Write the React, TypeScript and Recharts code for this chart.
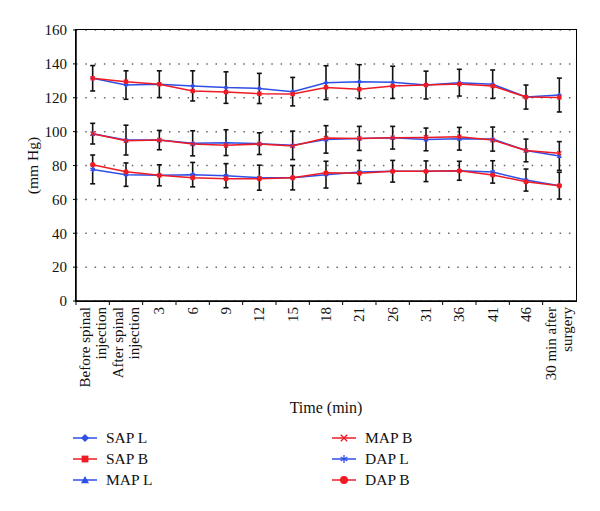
import { CartesianGrid, ErrorBar, Line, LineChart, XAxis, YAxis } from 'recharts'

const categories = [
  'Before spinal\ninjection',
  'After spinal\ninjection',
  '3', '6', '9', '12', '15', '18', '21', '26', '31', '36', '41', '46',
  '30 min after\nsurgery',
]

const sapL = [131.5, 127.5, 128, 127, 126, 125.5, 123.6, 128.9, 129.5, 129.1, 127.5, 128.9, 128, 120.4, 121.6]
const sapB = [131.5, 129.5, 128, 124, 123.4, 122.4, 122.2, 126.1, 125, 126.9, 127.5, 128.1, 126.9, 120.4, 120.2]
const mapL = [98.8, 95, 95, 93.1, 93.5, 92.9, 91.9, 95.4, 96, 96.4, 95.4, 95.8, 95.6, 88.9, 85.6]
const mapB = [98.8, 94.6, 95, 92.7, 91.9, 92.7, 91.5, 96.2, 96, 96.4, 96.6, 97, 95, 88.9, 87.2]
const dapL = [77.7, 74.6, 74.2, 74.6, 74, 72.8, 72.8, 74.6, 76.2, 76.6, 76.6, 76.9, 76.2, 71.4, 68.1]
const dapB = [80.5, 76.3, 74.2, 72.8, 72.2, 72.2, 72.8, 75.7, 75.4, 76.6, 76.6, 76.9, 74.4, 70.4, 68.1]

// half-width of the black error bars (SD), one bar per time point and group
const sapErr = [7.5, 8.4, 7.9, 8.9, 9.3, 8.9, 8.4, 10, 10, 9.5, 8.2, 7.9, 8.4, 7.1, 10]
const mapErr = [6.1, 8.8, 5.7, 7.4, 7.6, 6.4, 8.4, 8.1, 7.1, 6.7, 6.7, 6.7, 7.1, 6.7, 8.5]
const dapErr = [8.5, 6.9, 6.2, 7.2, 7.1, 7.4, 7.2, 7.9, 6.8, 6.4, 6.1, 5.6, 6.6, 6.5, 7.9]

const yTicks = [0, 20, 40, 60, 80, 100, 120, 140, 160]

const BLUE = '#2f4fe6'
const RED = '#ee1b24'
const FONT = '"Liberation Serif", "DejaVu Serif", serif'

type Shape = 'diamond' | 'square' | 'triangle' | 'x' | 'star' | 'circle'

const series: { key: string; name: string; color: string; shape: Shape; err?: string }[] = [
  { key: 'sapL', name: 'SAP L', color: BLUE, shape: 'diamond', err: 'sapErr' },
  { key: 'sapB', name: 'SAP B', color: RED, shape: 'square' },
  { key: 'mapL', name: 'MAP L', color: BLUE, shape: 'triangle', err: 'mapErr' },
  { key: 'mapB', name: 'MAP B', color: RED, shape: 'x' },
  { key: 'dapL', name: 'DAP L', color: BLUE, shape: 'star', err: 'dapErr' },
  { key: 'dapB', name: 'DAP B', color: RED, shape: 'circle' },
]

const rows = categories.map((cat, i) => ({
  cat,
  sapL: sapL[i],
  sapB: sapB[i],
  mapL: mapL[i],
  mapB: mapB[i],
  dapL: dapL[i],
  dapB: dapB[i],
  sapErr: sapErr[i],
  mapErr: mapErr[i],
  dapErr: dapErr[i],
}))

function Marker({ cx, cy, r, shape, color }: { cx: number; cy: number; r: number; shape: Shape; color: string }) {
  switch (shape) {
    case 'diamond':
      return <polygon points={`${cx},${cy - r} ${cx + r},${cy} ${cx},${cy + r} ${cx - r},${cy}`} fill={color} />
    case 'square':
      return <rect x={cx - r * 0.85} y={cy - r * 0.85} width={r * 1.7} height={r * 1.7} fill={color} />
    case 'triangle':
      return <polygon points={`${cx},${cy - r} ${cx + r},${cy + r * 0.8} ${cx - r},${cy + r * 0.8}`} fill={color} />
    case 'x':
      return (
        <g stroke={color} strokeWidth={1.3}>
          <line x1={cx - r * 0.8} y1={cy - r * 0.8} x2={cx + r * 0.8} y2={cy + r * 0.8} />
          <line x1={cx - r * 0.8} y1={cy + r * 0.8} x2={cx + r * 0.8} y2={cy - r * 0.8} />
        </g>
      )
    case 'star':
      return (
        <g stroke={color} strokeWidth={1.3}>
          <line x1={cx} y1={cy - r} x2={cx} y2={cy + r} />
          <line x1={cx - r * 0.85} y1={cy - r * 0.5} x2={cx + r * 0.85} y2={cy + r * 0.5} />
          <line x1={cx - r * 0.85} y1={cy + r * 0.5} x2={cx + r * 0.85} y2={cy - r * 0.5} />
        </g>
      )
    default:
      return <circle cx={cx} cy={cy} r={r} fill={color} />
  }
}

// plot box in page pixels
const PLOT = { left: 76, top: 30, width: 500, height: 271 }
const BAND = PLOT.width / categories.length

function XTick({ x, y, payload }: any) {
  const lines = String(payload.value).split('\n')
  return (
    <g transform={`translate(${x},${y})`}>
      <line x1={-BAND / 2} y1={0} x2={-BAND / 2} y2={4} stroke="#000" strokeWidth={1} />
      <text transform="rotate(-90)" textAnchor="end" fontSize={15} fill="#111">
        {lines.map((l, i) => (
          <tspan key={i} x={-6} y={5 + (i - (lines.length - 1) / 2) * 16}>
            {l}
          </tspan>
        ))}
      </text>
    </g>
  )
}

function YLabel({ viewBox }: any) {
  const cx = viewBox.x + 32
  const cy = viewBox.y + viewBox.height / 2
  return (
    <text
      x={cx}
      y={cy}
      transform={`rotate(-90 ${cx} ${cy})`}
      textAnchor="middle"
      dominantBaseline="central"
      fontSize={15.5}
      fill="#111"
    >
      (mm Hg)
    </text>
  )
}

function LegendItem({ s, left, top }: { s: (typeof series)[number]; left: number; top: number }) {
  return (
    <div style={{ position: 'absolute', left, top: top - 10, height: 20, display: 'flex', alignItems: 'center' }}>
      <svg width={24} height={20} style={{ display: 'block' }}>
        <line x1={0} y1={10} x2={24} y2={10} stroke={s.color} strokeWidth={1.5} />
        <Marker cx={12} cy={10} r={4} shape={s.shape} color={s.color} />
      </svg>
      <span style={{ marginLeft: 9, fontSize: 15.5, color: '#111', lineHeight: '20px' }}>{s.name}</span>
    </div>
  )
}

export default function App() {
  return (
    <div
      style={{
        position: 'absolute',
        left: 0,
        top: 0,
        width: 600,
        height: 511,
        background: '#fff',
        fontFamily: FONT,
      }}
    >
      <style>{`.recharts-wrapper text { font-family: ${FONT}; }`}</style>
      <LineChart width={600} height={416} data={rows} margin={{ top: 30, right: 24, left: 0, bottom: 0 }}>
        <CartesianGrid vertical={false} stroke="#666" strokeWidth={1.5} strokeDasharray="1.5 7.8" />
        <XAxis
          dataKey="cat"
          interval={0}
          height={115}
          padding={{ left: BAND / 2, right: BAND / 2 }}
          tickSize={0}
          tickMargin={0}
          tickLine={false}
          axisLine={{ stroke: '#000', strokeWidth: 1.5 }}
          tick={(p: any) => <XTick {...p} />}
          label={{ value: 'Time (min)', position: 'insideBottom', offset: 3, fontSize: 16, fill: '#111' }}
        />
        <YAxis
          width={76}
          domain={[0, 160]}
          ticks={yTicks}
          interval={0}
          tickSize={3}
          tickMargin={6}
          axisLine={{ stroke: '#000', strokeWidth: 1.5 }}
          tickLine={{ stroke: '#000' }}
          tick={{ fontSize: 15, fill: '#111' }}
          label={{ value: '(mm Hg)', content: YLabel }}
        />
        {series.map((s) => (
          <Line
            key={s.key}
            dataKey={s.key}
            name={s.name}
            type="linear"
            stroke={s.color}
            strokeWidth={1.5}
            isAnimationActive={false}
            dot={(p: any) => (
              <Marker key={`${s.key}-${p.index}`} cx={p.cx} cy={p.cy} r={2.6} shape={s.shape} color={s.color} />
            )}
            activeDot={false}
          >
            {s.err && (
              <ErrorBar dataKey={s.err} direction="y" width={2.5} stroke="#111" strokeWidth={1.6} isAnimationActive={false} />
            )}
          </Line>
        ))}
      </LineChart>
      {/* frame around the plot area */}
      <div
        style={{
          position: 'absolute',
          left: PLOT.left - 0.75,
          top: PLOT.top - 0.75,
          width: PLOT.width,
          height: PLOT.height,
          border: '1.5px solid #000',
          pointerEvents: 'none',
        }}
      />
      {series.map((s, i) => (
        <LegendItem
          key={s.key}
          s={s}
          left={i < 3 ? 73 : 332}
          top={438 + (i % 3) * 21}
        />
      ))}
    </div>
  )
}
